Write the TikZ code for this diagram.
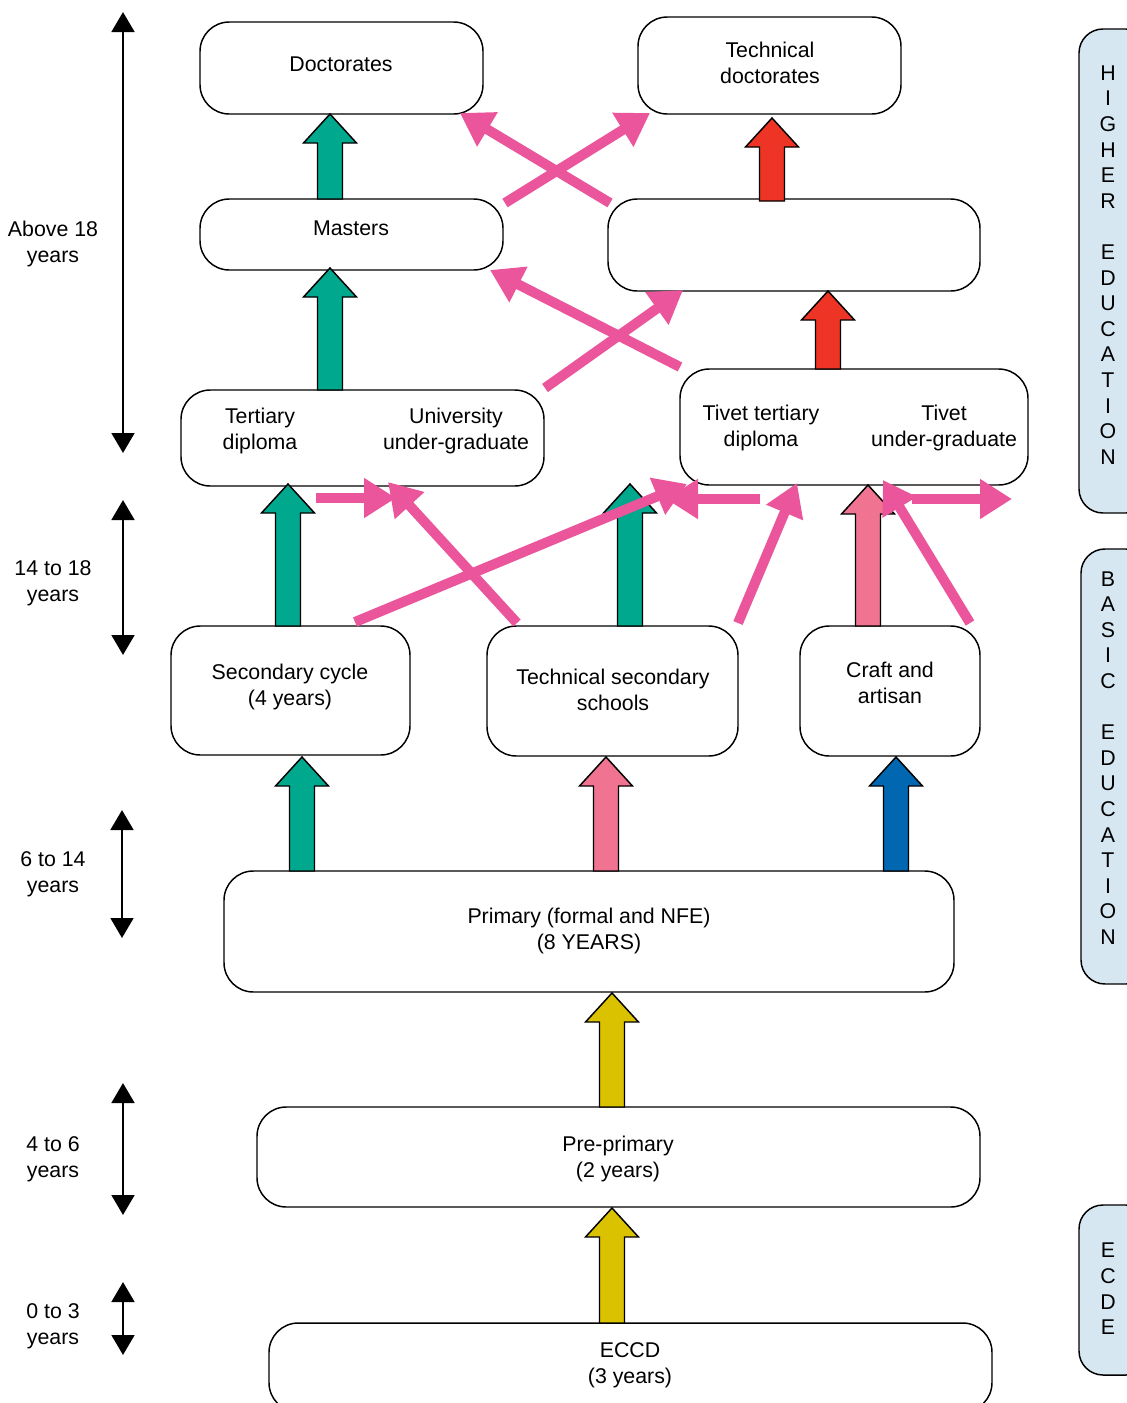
\documentclass[tikz,border=0pt]{standalone}
\usepackage{fontspec}
\setmainfont{Liberation Sans}
\usetikzlibrary{arrows.meta,fit}
\definecolor{pinkline}{RGB}{235,85,155}
\definecolor{pinkblock}{RGB}{240,115,145}
\definecolor{tealgreen}{RGB}{0,168,142}
\definecolor{redblock}{RGB}{238,52,36}
\definecolor{blueblock}{RGB}{0,103,176}
\definecolor{yellowblock}{RGB}{218,194,0}
\definecolor{sideblue}{RGB}{214,231,242}
\tikzset{
  box/.style={draw, line width=1.1pt, rounded corners=22pt, inner sep=0pt},
  sidebox/.style={draw, line width=1.1pt, rounded corners=18pt, fill=sideblue, inner sep=0pt},
  txt/.style={align=center, inner sep=0pt},
  vtxt/.style={align=center, inner sep=0pt, font=\fontsize{16}{19.2}\selectfont},
  pinkarr/.style={draw=pinkline, line width=7.5pt, -{Triangle[length=24pt,width=28.5pt]}},
  agearr/.style={line width=2.2pt, {Triangle[length=15pt,width=17pt]}-{Triangle[length=15pt,width=17pt]}},
  blockstyle/.style={draw=black, line width=1.1pt, line join=miter}
}
\newcommand\rbox[5]{%
  \path (#2,#3) coordinate (#1-a) (#4,#5) coordinate (#1-b);
  \node[box, fit=(#1-a)(#1-b)] (#1) {};}
\newcommand\blockup[4]{%
  \draw[blockstyle, fill=#4] (#1-12.5,#2) -- (#1-12.5,#3+29) -- (#1-26.5,#3+29) -- (#1,#3)
    -- (#1+26.5,#3+29) -- (#1+12.5,#3+29) -- (#1+12.5,#2) -- cycle;}
\begin{document}
\begin{tikzpicture}[x=0.75pt,y=-0.75pt, font=\fontsize{16}{19.5}\selectfont]
\useasboundingbox (0,0) rectangle (1127,1403);
\clip (0,0) rectangle (1127,1403);

% main boxes
\rbox{doct}{200}{22}{483}{114}
\node[txt] (docttxt) at (341,64) {Doctorates};
\rbox{tdoct}{638}{17}{901}{114}
\node[txt] (tdocttxt) at (770,63) {Technical\\doctorates};
\rbox{mast}{200}{199}{503}{270}
\node[txt] (masttxt) at (351,228) {Masters};
\rbox{blank}{608}{199}{980}{291}
\rbox{tert}{181}{390}{544}{486}
\node[txt] (terttxt) at (260,431) {Tertiary\\diploma};
\node[txt] (univtxt) at (456,431) {University\\under-graduate};
\rbox{tivet}{680}{369}{1028}{485}
\node[txt] (tivtxt) at (761,428) {Tivet tertiary\\diploma};
\node[txt] (tivutxt) at (944,428) {Tivet\\under-graduate};
\rbox{sec}{171}{626}{410}{755}
\node[txt] (sectxt) at (290,687) {Secondary cycle\\(4 years)};
\rbox{tsec}{487}{626}{738}{756}
\node[txt] (tsectxt) at (613,690) {Technical secondary\\schools};
\rbox{craft}{800}{626}{980}{756}
\node[txt] (crafttxt) at (890,683) {Craft and\\artisan};
\rbox{prim}{224}{871}{954}{992}
\node[txt] (primtxt) at (589,931) {Primary (formal and NFE)\\(8 YEARS)};
\rbox{pre}{257}{1107}{980}{1207}
\node[txt] (pretxt) at (618,1159) {Pre-primary\\(2 years)};
\rbox{eccd}{269}{1323}{992}{1412}
\node[txt] (eccdtxt) at (630,1365) {ECCD\\(3 years)};

% side boxes
\path[sidebox] (1079,29) rectangle (1150,513);
\node[vtxt] (shtxt) at (1108,265) {H\\I\\G\\H\\E\\R\\[19.2pt]E\\D\\U\\C\\A\\T\\I\\O\\N};
\path[sidebox] (1081,549) rectangle (1150,984);
\node[vtxt] (sbtxt) at (1108,758) {B\\A\\S\\I\\C\\[19.2pt]E\\D\\U\\C\\A\\T\\I\\O\\N};
\path[sidebox] (1079,1205) rectangle (1150,1375);
\node[vtxt] (setxt) at (1108,1289) {E\\C\\D\\E};

% age labels and arrows
\node[txt] (l1) at (53,244) {Above 18\\years};
\node[txt] (l2) at (53,583) {14 to 18\\years};
\node[txt] (l3) at (53,874) {6 to 14\\years};
\node[txt] (l4) at (53,1159) {4 to 6\\years};
\node[txt] (l5) at (53,1326) {0 to 3\\years};
\draw[agearr] (123,12) coordinate (a1t) -- (123,453) coordinate (a1b);
\draw[agearr] (123,500) coordinate (a2t) -- (123,655) coordinate (a2b);
\draw[agearr] (122,810) coordinate (a3t) -- (122,938) coordinate (a3b);
\draw[agearr] (123,1083) coordinate (a4t) -- (123,1215) coordinate (a4b);
\draw[agearr] (123,1282) coordinate (a5t) -- (123,1355) coordinate (a5b);

% block arrows
\blockup{330}{199}{114}{tealgreen}
\blockup{330}{390}{268}{tealgreen}
\blockup{288}{626}{484}{tealgreen}
\blockup{630}{626}{484}{tealgreen}
\blockup{302}{871}{757}{tealgreen}
\blockup{606}{871}{757}{pinkblock}
\blockup{896}{871}{757}{blueblock}
\blockup{868}{626}{485}{pinkblock}
\blockup{828}{369}{291}{redblock}
\blockup{772}{201}{118}{redblock}
\blockup{612}{1107}{993}{yellowblock}
\blockup{612}{1323}{1208}{yellowblock}

% pink arrows
\draw[pinkarr] (610,203) -- (460,113);
\draw[pinkarr] (505,203) -- (650,113);
\draw[pinkarr] (680,367) -- (490,270);
\draw[pinkarr] (545,388) -- (683,290);
\draw[pinkarr] (316,498) -- (396,498);
\draw[pinkarr] (517,623) -- (388,482);
\draw[pinkarr] (355,622) -- (687,484);
\draw[pinkarr] (760,499) -- (666,499);
\draw[pinkarr] (738,623) -- (797,483);
\draw[pinkarr] (970,623) -- (883,480);
\draw[pinkarr] (912,499) -- (1012,499);
\end{tikzpicture}
\end{document}
